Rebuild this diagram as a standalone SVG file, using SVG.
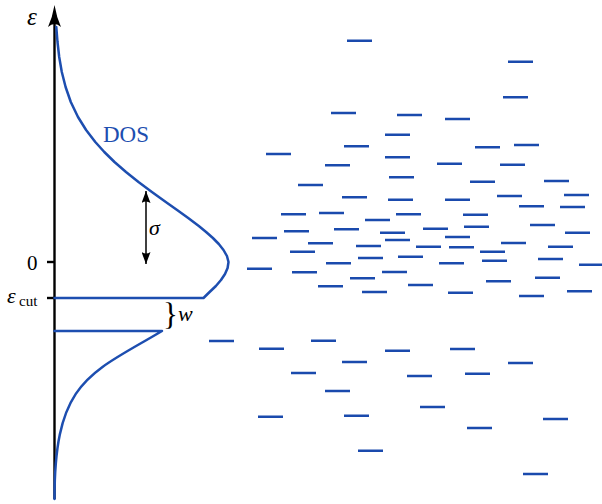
<svg xmlns="http://www.w3.org/2000/svg" width="602" height="504" viewBox="0 0 602 504">
<style>
.ax{stroke:#000;stroke-width:2.4;fill:none}
.dos{stroke:#1d4eb0;stroke-width:2.5;fill:none;stroke-linejoin:round;stroke-linecap:round}
.lv{stroke:#1a4aad;stroke-width:2.4;fill:none}
.it{font-style:italic}
</style>
<defs>
<marker id="ah" viewBox="0 0 12 9" refX="12" refY="4.5" markerWidth="12" markerHeight="9" orient="auto-start-reverse" markerUnits="userSpaceOnUse">
<path d="M0,0 L12,4.5 L0,9 Q3,4.5 0,0 Z" fill="#000"/>
</marker>
</defs>
<g id="axis" fill="#000" font-family="'Liberation Serif','DejaVu Serif',serif">
<line class="ax" x1="54.5" y1="499" x2="54.5" y2="14"/>
<path d="M54.5,5 Q56.5,17 61,27 Q54.5,21 48,27 Q52.5,17 54.5,5 Z" fill="#000"/>
<line class="ax" x1="47" y1="262" x2="54.5" y2="262"/>
<line class="ax" x1="47" y1="298" x2="54.5" y2="298"/>
<text class="it" x="27" y="25" font-size="25">ε</text>
<text x="27" y="270" font-size="21">0</text>
<text class="it" x="7" y="303" font-size="22">ε</text>
<text x="19" y="306" font-size="15">cut</text>
</g>
<g id="dos" font-family="'Liberation Serif','DejaVu Serif',serif">
<path class="dos" d="M54.5,298 H203.5 L209.6,292 L215.9,286 L221,280 L225,274 L227.6,268 L228.5,262 L226.95,256 L223.5,250 L218.8,244 L212.9,238 L206.1,232 L198.8,226 L188.2,218 L177.1,210 L165.8,202 L151.9,192 L138.5,182 L126,172 L114.5,162 L104.3,152 L95.3,142 L86.1,130 L78,117 L70.8,102 L65.6,87 L61.8,72 L59.2,57 L57.5,42 L56.3,27"/>
<path class="dos" d="M54.5,331 H162 C90,374 54.5,380 54.5,499"/>
<text x="103" y="142" font-size="23" fill="#1d4eb0">DOS</text>
</g>
<g id="sigma" font-family="'Liberation Serif','DejaVu Serif',serif">
<line x1="146" y1="191" x2="146" y2="264" stroke="#000" stroke-width="1.5" marker-start="url(#ah)" marker-end="url(#ah)"/>
<text class="it" x="149" y="235" font-size="22">σ</text>
</g>
<g id="width" font-family="'Liberation Serif','DejaVu Serif',serif">
<text x="163" y="325" font-size="31">}</text>
<text class="it" x="178" y="321" font-size="22">w</text>
</g>
<g id="levels">
<path class="lv" d="M347,40.7h25 M508,61.7h25 M503,97.3h25 M331,113h25 M397,115h25 M445,119h25 M385,134.7h25 M344,146.3h25 M266,154h25 M475,147.3h25 M514,145h25 M385,157.3h25 M325,165.3h25 M437,163.7h25 M500,164.7h25 M389,177.3h25 M298,185h25 M470,181.7h25 M544,181h25 M342,197.3h25 M388,199.7h25 M445,199.7h25 M497,196h25 M564,195h25 M519,206.3h25 M560,207h25 M281,214.3h25 M319,213h25 M396,214.3h25 M463,214.7h25 M365,220h25 M284,231.3h25 M334,229.3h25 M423,228.7h25 M464,226.7h25 M530,225h25 M380,232.7h25 M565,232.7h25 M252,238h25 M385,240h25 M445,237h25 M308,243.3h25 M356,246h25 M416,246.7h25 M449,247.3h25 M501,243h25 M548,246.7h25 M290,251.7h25 M480,251.7h25 M358,258h25 M398,256.7h25 M326,263.3h25 M439,263.3h25 M482,260.7h25 M538,259h25 M579,264.7h25 M247,268.7h25 M292,272.3h25 M382,272h25 M350,278.3h25 M486,281.3h25 M535,277.7h25 M318,286.3h25 M408,285h25 M362,292h25 M448,292.7h25 M519,296h25 M567,291.3h25 M209,341h25 M259,348.7h25 M311,340.7h25 M385,350.7h25 M450,349h25 M342,362h25 M508,363h25 M291,373h25 M407,376h25 M465,373.7h25 M325,391h25 M420,407h25 M258,416.7h25 M344,415.7h25 M543,419h25 M467,428h25 M358,450.7h25 M523,474h25"/>
</g>
</svg>
